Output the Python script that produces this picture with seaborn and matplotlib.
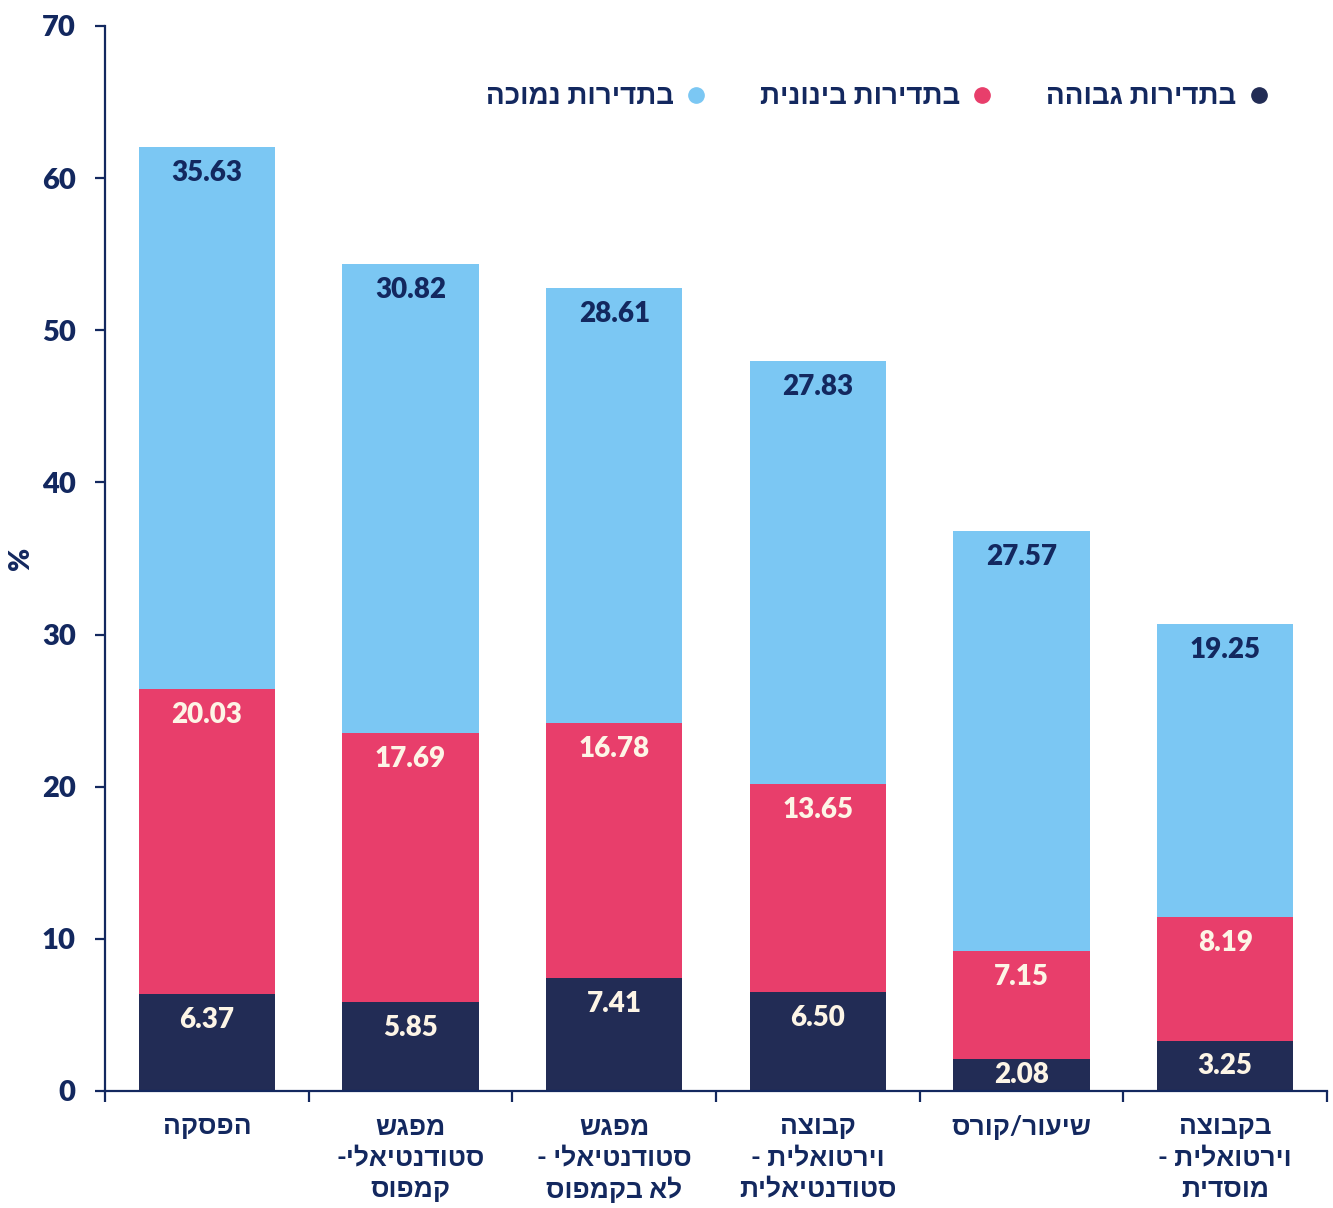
import seaborn as sns
from matplotlib import pyplot as plt
from matplotlib.lines import Line2D

# === DATA
categories = [['הפסקה'],
              ['מפגש', 'סטודנטיאלי-', 'קמפוס'],
              ['מפגש', 'סטודנטיאלי -', 'לא בקמפוס'],
              ['קבוצה', 'וירטואלית -', 'סטודנטיאלית'],
              ['שיעור/קורס'],
              ['בקבוצה', 'וירטואלית -', 'מוסדית']]
high = [6.37, 5.85, 7.41, 6.50, 2.08, 3.25]
medium = [20.03, 17.69, 16.78, 13.65, 7.15, 8.19]
low = [35.63, 30.82, 28.61, 27.83, 27.57, 19.25]
series_names = ['בתדירות גבוהה', 'בתדירות בינונית', 'בתדירות נמוכה']
y_ticks = [0, 10, 20, 30, 40, 50, 60, 70]

navy = '#222c55'
red = '#e83e6b'
blue = '#7bc7f3'
ink = '#13285f'
cream = '#fdf5e6'


# matplotlib has no bidi, so Hebrew is put into visual order line by line
def rtl(text):
    return '\n'.join(line[::-1] for line in text.split('\n'))


labels = [rtl('\n'.join(c)) for c in categories]

# cumulative heights for the stacked look
mid_top = [h + m for h, m in zip(high, medium)]
total = [h + m + l for h, m, l in zip(high, medium, low)]

# === FIGURE
sns.set_style('white')
plt.rcParams['font.family'] = ['Lato', 'Liberation Sans', 'DejaVu Sans']
plt.rcParams['font.weight'] = 'bold'

fig = plt.figure(figsize=(13.33, 12.08), dpi=100)
ax = fig.add_axes([0.0788, 0.0969, 0.9167, 0.8816])

# Draw the totals first, then overlay the lower parts
for vals, col in [(total, blue), (mid_top, red), (high, navy)]:
    sns.barplot(x=labels, y=vals, color=col, width=0.67, saturation=1,
                linewidth=0, ax=ax)

# Value labels just under the top of each segment
px_per_unit = 1065 / 70
segments = [(high, high, cream), (mid_top, medium, cream), (total, low, ink)]
for tops, vals, col in segments:
    for i, (top, v) in enumerate(zip(tops, vals)):
        off = min(26, v * px_per_unit / 2)
        ax.annotate('{:.2f}'.format(v), xy=(i, top), xytext=(0, -off),
                    textcoords='offset pixels', ha='center', va='center',
                    fontsize=20, fontweight='heavy', color=col)

# Axes styling
ax.set_xlim(-0.5, 5.5)
ax.set_ylim(0, 70)
ax.set_yticks(y_ticks)
ax.set_yticklabels([str(t) for t in y_ticks], fontweight='heavy')
for side in ['top', 'right']:
    ax.spines[side].set_visible(False)
for side in ['left', 'bottom']:
    ax.spines[side].set_color(ink)
    ax.spines[side].set_linewidth(1.6)

ax.set_xticks([i - 0.5 for i in range(7)], minor=True)
ax.tick_params(axis='x', which='major', length=0, pad=17, labelsize=19,
               labelcolor=ink)
ax.tick_params(axis='x', which='minor', length=8, width=1.6, color=ink,
               direction='out', bottom=True)
ax.tick_params(axis='y', which='major', length=7, width=1.6, color=ink,
               direction='out', left=True, pad=14, labelsize=21,
               labelcolor=ink)
for t in ax.get_xticklabels():
    t.set_linespacing(1.35)
    t.set_va('top')

ax.set_ylabel('%', fontsize=20, fontweight='heavy', color=ink, va='center')
ax.yaxis.set_label_coords(-0.069, 0.5)

# Legend, right to left: marker sits to the right of the text
handles = [Line2D([], [], marker='o', linestyle='', markersize=11,
                  markerfacecolor=c, markeredgecolor=c)
           for c in [blue, red, navy]]
names = [rtl(n) for n in series_names[::-1]]
leg = ax.legend(handles, names, ncol=3, frameon=False, markerfirst=False,
                loc='center right', bbox_to_anchor=(0.976, 0.934),
                handletextpad=0.3, columnspacing=1.8, handlelength=1.0,
                prop={'size': 20, 'weight': 'bold'})
for t in leg.get_texts():
    t.set_color(ink)

plt.savefig('out.png', dpi=100)
